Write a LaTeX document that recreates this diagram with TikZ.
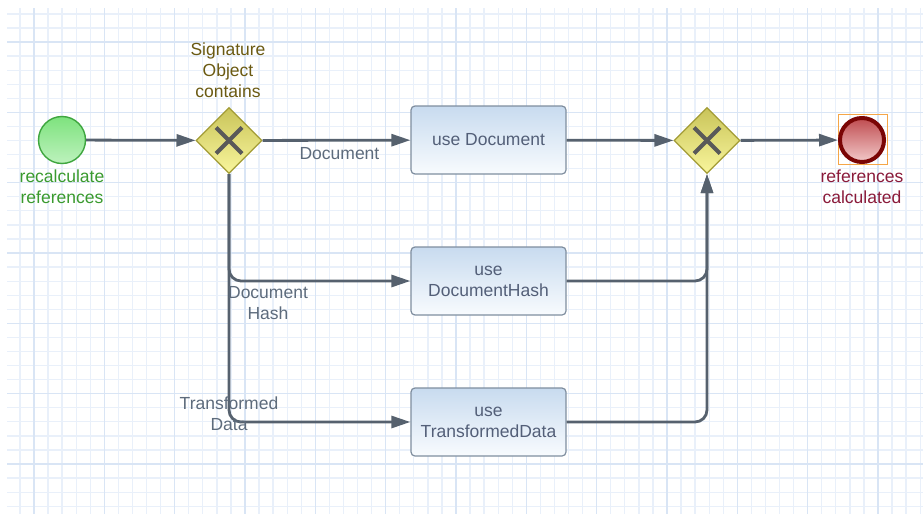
\documentclass[tikz,border=0pt]{standalone}
\usepackage{fontspec}
\setmainfont{Liberation Sans}
\usetikzlibrary{shapes.geometric,arrows.meta}

\definecolor{gridminor}{HTML}{E9F0FA}
\definecolor{gridmajor}{HTML}{D9E5F5}
\definecolor{flowcol}{HTML}{56616E}
\definecolor{flowtext}{HTML}{5D6B7C}
\definecolor{tasktext}{HTML}{535F78}
\definecolor{taskline}{HTML}{7F8E9F}
\definecolor{tasktop}{HTML}{C8DBEF}
\definecolor{taskbot}{HTML}{F8FBFE}
\definecolor{gwline}{HTML}{A39C35}
\definecolor{gwtop}{HTML}{C9C45A}
\definecolor{gwbot}{HTML}{F9F69C}
\definecolor{gwtext}{HTML}{6B5A12}
\definecolor{startline}{HTML}{3FA63F}
\definecolor{starttop}{HTML}{7EE27E}
\definecolor{startbot}{HTML}{BDF2BD}
\definecolor{starttext}{HTML}{3A9A2E}
\definecolor{endline}{HTML}{7A0505}
\definecolor{endtop}{HTML}{BF4C50}
\definecolor{endbot}{HTML}{F3CACA}
\definecolor{endtext}{HTML}{8A1A3A}
\definecolor{selcol}{HTML}{F5A648}

\tikzset{
  txt/.style={font=\fontsize{17.5}{21}\selectfont, align=center, inner sep=1pt},
  flow/.style={draw=flowcol, line width=2.8pt, rounded corners=12pt,
    -{Triangle[length=19pt,width=12pt]}},
  flowlabel/.style={txt, text=flowtext},
  task/.style={txt, draw=taskline, line width=1.2pt, rounded corners=4pt,
    minimum width=155pt, minimum height=68pt, top color=tasktop, bottom color=taskbot,
    text=tasktext},
  gateway/.style={diamond, draw=gwline, line width=1.2pt, inner sep=0pt,
    minimum width=66pt, minimum height=66pt, top color=gwtop, bottom color=gwbot},
  gwx/.style={draw=black!65, line width=4pt},
  startevent/.style={circle, draw=startline, line width=1.4pt, minimum size=47pt,
    inner sep=0pt, top color=starttop, bottom color=startbot},
  endevent/.style={circle, draw=endline, line width=4pt, minimum size=44pt,
    inner sep=0pt, top color=endtop, bottom color=endbot}
}

\begin{document}
\begin{tikzpicture}[x=1pt,y=-1pt]
  \useasboundingbox (0,0) rectangle (923,514);
  \fill[white] (0,0) rectangle (923,514);

  % grid paper
  \begin{scope}
    \clip (7,8) rectangle (923,514);
    \foreach \i in {0,...,64}
      \draw[gridminor, line width=1.3pt] (19.95+14.066*\i,8) -- (19.95+14.066*\i,514);
    \foreach \j in {0,...,35}
      \draw[gridminor, line width=1.3pt] (7,13.9+14.066*\j) -- (923,13.9+14.066*\j);
    \foreach \i in {0,...,12}
      \draw[gridmajor, line width=1.6pt] (34+70.33*\i,8) -- (34+70.33*\i,514);
    \foreach \j in {0,...,6}
      \draw[gridmajor, line width=1.6pt] (7,42+70.33*\j) -- (923,42+70.33*\j);
  \end{scope}

  % events and gateways
  \node[startevent] (start) at (62,140) {};
  \node[txt, text=starttext] (startlabel) at (62,187) {recalculate\\references};

  \node[gateway] (gwsplit) at (229,140.5) {};
  \draw[gwx] (gwsplit.center) +(-13,-13) -- +(13,13);
  \draw[gwx] (gwsplit.center) +(-13,13) -- +(13,-13);
  \node[txt, text=gwtext] (gwlabel) at (228,70) {Signature\\Object\\contains};

  \node[task] (taskdoc) at (488.5,140) {use Document};
  \node[task] (taskhash) at (488.5,281) {use\\DocumentHash};
  \node[task] (taskdata) at (488.5,422) {use\\TransformedData};

  \node[gateway] (gwjoin) at (707,140.5) {};
  \draw[gwx] (gwjoin.center) +(-13,-13) -- +(13,13);
  \draw[gwx] (gwjoin.center) +(-13,13) -- +(13,-13);

  \draw[selcol, line width=0.8pt] (838,114) rectangle (887,164);
  \node[endevent] (stop) at (862,140) {};
  \node[txt, text=endtext] (stoplabel) at (862,187) {references\\calculated};

  % sequence flows
  \draw[flow] (start) -- (gwsplit);
  \draw[flow] (gwsplit) -- node[flowlabel, below=4.5pt, xshift=3pt] (lbdoc) {Document} (taskdoc);
  \draw[flow] (gwsplit.south) |- (taskhash.west);
  \draw[flow] (gwsplit.south) |- (taskdata.west);
  \draw[flow] (taskdoc) -- (gwjoin);
  \draw[flow] (taskhash.east) -| (gwjoin.south);
  \draw[flow] (taskdata.east) -| (gwjoin.south);
  \draw[flow] (gwjoin) -- (stop);

  \node[flowlabel] (lbhash) at (268,303.5) {Document\\Hash};
  \node[flowlabel] (lbdata) at (229,414) {Transformed\\Data};
\end{tikzpicture}
\end{document}
